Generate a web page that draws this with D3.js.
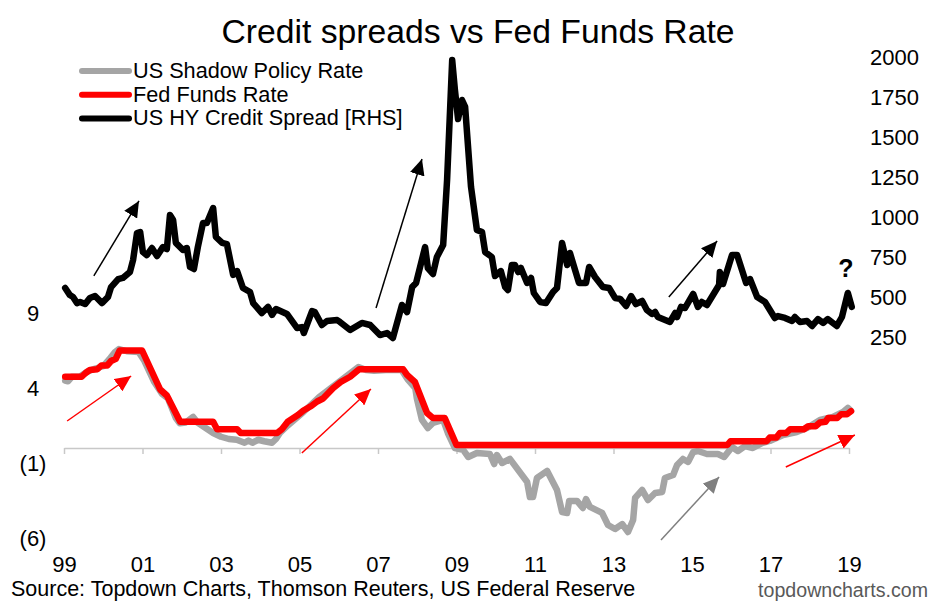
<!DOCTYPE html>
<html>
<head>
<meta charset="utf-8">
<script src="https://cdn.jsdelivr.net/npm/d3@7"></script>
<style>
  body { margin: 0; background: #fff; }
  text { font-family: "Liberation Sans", Arial, sans-serif; fill: #000; }
</style>
</head>
<body>
<script>
var w = 940,
    h = 612;

// data, dates are decimal years
var hyDates = [1999.03,1999.15,1999.23,1999.33,1999.41,1999.54,1999.66,1999.79,1999.97,2000.12,2000.20,2000.38,2000.50,2000.68,2000.76,2000.86,2000.94,2001.01,2001.11,2001.24,2001.37,2001.52,2001.62,2001.70,2001.78,2001.85,2002.03,2002.13,2002.21,2002.31,2002.41,2002.54,2002.64,2002.80,2002.87,2003.03,2003.15,2003.31,2003.41,2003.56,2003.74,2003.82,2004.04,2004.20,2004.30,2004.40,2004.68,2004.94,2005.06,2005.11,2005.32,2005.39,2005.57,2005.70,2005.96,2006.03,2006.29,2006.59,2006.80,2007.05,2007.23,2007.38,2007.61,2007.74,2007.87,2007.97,2008.20,2008.27,2008.40,2008.50,2008.66,2008.76,2008.89,2008.96,2009.04,2009.14,2009.22,2009.37,2009.52,2009.65,2009.73,2009.90,2009.98,2010.13,2010.24,2010.31,2010.41,2010.49,2010.57,2010.64,2010.80,2010.90,2010.97,2011.13,2011.28,2011.46,2011.56,2011.69,2011.82,2011.89,2012.12,2012.30,2012.38,2012.53,2012.73,2012.89,2013.04,2013.17,2013.32,2013.45,2013.57,2013.73,2013.85,2013.98,2014.06,2014.13,2014.44,2014.57,2014.62,2014.72,2014.82,2015.03,2015.15,2015.25,2015.38,2015.69,2015.71,2015.79,2016.02,2016.15,2016.38,2016.48,2016.66,2016.86,2017.11,2017.19,2017.37,2017.55,2017.62,2017.75,2017.93,2018.06,2018.21,2018.34,2018.46,2018.69,2018.82,2018.97,2019.07];
var hySpread = [556,512,500,462,469,456,494,506,462,500,562,612,619,656,731,900,906,781,762,806,756,812,800,1012,981,838,794,806,688,675,812,962,962,1056,875,838,831,638,662,556,531,462,400,438,388,425,394,306,312,275,412,406,325,350,356,344,294,338,325,262,275,244,450,406,562,588,812,681,644,750,825,1231,1981,1794,1612,1731,1688,1188,919,906,781,750,631,662,562,544,700,700,656,681,588,619,525,469,462,531,556,838,700,775,588,588,688,625,562,556,494,488,444,506,456,475,419,394,406,375,344,400,375,438,431,519,438,469,450,575,656,581,762,762,588,612,500,469,369,381,369,350,375,344,350,319,362,338,362,319,375,525,438];

var ffDates = [1999.03,1999.45,1999.55,1999.66,1999.85,1999.95,2000.10,2000.20,2000.32,2000.42,2000.99,2001.45,2001.62,2001.96,2002.80,2002.90,2003.41,2003.50,2004.43,2004.55,2004.70,2004.96,2005.10,2005.30,2005.45,2005.60,2005.86,2006.05,2006.29,2006.52,2007.64,2007.74,2007.94,2008.25,2008.40,2008.70,2009.00,2015.90,2015.98,2016.90,2016.98,2017.15,2017.24,2017.40,2017.50,2017.85,2017.96,2018.15,2018.26,2018.40,2018.47,2018.70,2018.80,2018.95,2019.05];
var ffRate = [4.75,4.75,5.0,5.2,5.25,5.5,5.5,5.8,5.95,6.5,6.5,3.9,3.5,1.75,1.75,1.25,1.25,1.0,1.0,1.25,1.75,2.2,2.5,2.8,3.1,3.3,4.0,4.4,4.75,5.25,5.25,4.87,4.4,2.33,2.0,2.0,0.2,0.2,0.45,0.45,0.7,0.7,1.0,1.0,1.25,1.25,1.45,1.45,1.7,1.75,2.0,2.0,2.25,2.25,2.45];

var shadowDates = [1999.03,1999.10,1999.20,1999.40,1999.60,1999.80,2000.00,2000.15,2000.30,2000.40,2000.60,2000.90,2001.05,2001.30,2001.50,2001.65,2001.85,2001.95,2002.10,2002.29,2002.40,2002.60,2002.80,2003.00,2003.20,2003.40,2003.60,2003.70,2003.80,2003.95,2004.10,2004.30,2004.40,2004.50,2004.70,2004.90,2005.10,2005.30,2005.50,2005.80,2006.10,2006.30,2006.50,2006.70,2006.90,2007.20,2007.60,2007.75,2007.95,2007.99,2008.12,2008.27,2008.40,2008.66,2008.78,2008.96,2009.17,2009.30,2009.52,2009.85,2009.96,2010.03,2010.16,2010.36,2010.80,2010.87,2010.95,2011.05,2011.31,2011.56,2011.69,2011.82,2011.87,2012.07,2012.22,2012.30,2012.40,2012.71,2012.86,2013.04,2013.22,2013.37,2013.50,2013.55,2013.73,2013.88,2014.06,2014.24,2014.31,2014.52,2014.62,2014.77,2014.90,2015.03,2015.15,2015.38,2015.66,2015.82,2016.02,2016.17,2016.35,2016.55,2016.78,2016.98,2017.32,2017.67,2017.93,2018.26,2018.59,2018.85,2018.97,2019.05];
var shadowRate = [4.5,4.45,4.75,4.75,5.1,5.3,5.45,5.9,6.4,6.6,6.45,6.4,5.8,4.4,3.6,3.3,2.0,1.65,1.7,2.07,1.7,1.35,1.0,0.75,0.6,0.55,0.35,0.5,0.35,0.55,0.45,0.35,0.6,1.0,1.5,1.95,2.4,2.9,3.4,4.0,4.6,5.0,5.4,5.2,5.15,5.2,5.2,4.6,4.0,3.3,1.87,1.33,1.67,1.87,1.0,0,-0.13,-0.6,-0.33,-0.4,-1.07,-0.47,-1.0,-0.73,-2.27,-3.27,-3.27,-2.0,-1.53,-2.8,-4.27,-4.33,-3.53,-3.53,-4.0,-3.4,-3.93,-4.33,-5.13,-5.4,-5.07,-5.6,-4.8,-3.33,-2.8,-3.47,-3.0,-2.93,-2.0,-1.8,-1.13,-0.73,-0.93,-0.27,-0.2,-0.4,-0.4,-0.6,0.07,-0.2,0.13,0,0.33,0.47,0.87,1.07,1.33,1.87,2.07,2.4,2.67,2.47];

var yearTicks = [1999,2001,2003,2005,2007,2009,2011,2013,2015,2017,2019];
var leftTicks = [-6,-1,4,9];
var rightTicks = [250,500,750,1000,1250,1500,1750,2000];
var legendNames = ['US Shadow Policy Rate','Fed Funds Rate','US HY Credit Spread [RHS]'];
var legendColors = ['#a5a5a5','#ff0000','#000000'];

// trend arrows, in years and left axis units
var arrowColors = ['#000000','#000000','#000000','#ff0000','#ff0000','#ff0000','#7f7f7f'];
var arrowFromYear = [1999.76,2006.95,2014.41,1999.08,2005.06,2017.39,2014.21];
var arrowFromRate = [11.47,9.33,10.07,1.8,-0.33,-1.27,-6.13];
var arrowToYear = [2000.91,2008.12,2015.64,2000.71,2006.82,2019.15,2015.69];
var arrowToRate = [16.47,19.27,13.8,4.8,3.93,0.87,-1.93];

var x = d3.scaleLinear().domain([1999, 2019]).range([64, 849]);
var yLeft = d3.scaleLinear().domain([-6, 9]).range([538, 313]);
var yRight = d3.scaleLinear().domain([250, 2000]).range([337, 57]);

var svg = d3.select('body')
            .append('svg')
            .attr('width', w)
            .attr('height', h)
            .style('display', 'block');

svg.append('text')
   .attr('x', 478)
   .attr('y', 43)
   .attr('text-anchor', 'middle')
   .style('font-size', '33.7px')
   .text('Credit spreads vs Fed Funds Rate');

// axis line at zero, labels sit at the bottom of the plot
var zeroAxis = svg.append('g')
   .attr('transform', 'translate(0,' + yLeft(0) + ')')
   .call(d3.axisBottom(x).tickValues(yearTicks).tickSize(6).tickSizeOuter(0).tickFormat(''));
zeroAxis.selectAll('path, line').attr('stroke', '#c8c8c8').attr('stroke-width', 1.5);

var yearAxis = svg.append('g')
   .attr('transform', 'translate(0,565)')
   .call(d3.axisBottom(x).tickValues(yearTicks).tickSize(0).tickPadding(0)
     .tickFormat(function(d) { return String(d % 100).padStart(2, '0'); }));
yearAxis.select('.domain').remove();
yearAxis.selectAll('text')
   .attr('dy', '0.32em')
   .style('font-size', '22px')
   .style('font-family', '"Liberation Sans", Arial, sans-serif');

var leftAxis = svg.append('g')
   .attr('transform', 'translate(33,0)')
   .call(d3.axisLeft(yLeft).tickValues(leftTicks).tickSize(0).tickPadding(0)
     .tickFormat(function(d) { return d < 0 ? '(' + Math.abs(d) + ')' : d; }));
leftAxis.select('.domain').remove();
leftAxis.selectAll('text')
   .attr('text-anchor', 'middle')
   .style('font-size', '22px')
   .style('font-family', '"Liberation Sans", Arial, sans-serif');

var rightAxis = svg.append('g')
   .attr('transform', 'translate(870,0)')
   .call(d3.axisRight(yRight).tickValues(rightTicks).tickSize(0).tickPadding(0).tickFormat(d3.format('d')));
rightAxis.select('.domain').remove();
rightAxis.selectAll('text')
   .style('font-size', '22px')
   .style('font-family', '"Liberation Sans", Arial, sans-serif');

// line series
function drawLine(dates, values, y, color) {
  var line = d3.line()
    .x(function(d) { return x(d); })
    .y(function(d, i) { return y(values[i]); });
  svg.append('path')
     .attr('d', line(dates))
     .attr('fill', 'none')
     .attr('stroke', color)
     .attr('stroke-width', 6.5)
     .attr('stroke-linejoin', 'round')
     .attr('stroke-linecap', 'round');
}

drawLine(shadowDates, shadowRate, yLeft, legendColors[0]);
drawLine(ffDates, ffRate, yLeft, legendColors[1]);
drawLine(hyDates, hySpread, yRight, legendColors[2]);

// arrow heads, one marker per colour
var defs = svg.append('defs');
d3.range(arrowColors.length).forEach(function(i) {
  defs.append('marker')
      .attr('id', 'head' + i)
      .attr('markerUnits', 'userSpaceOnUse')
      .attr('viewBox', '0 0 16 15')
      .attr('refX', 16)
      .attr('refY', 7.5)
      .attr('markerWidth', 16)
      .attr('markerHeight', 15)
      .attr('orient', 'auto')
    .append('path')
      .attr('d', 'M0,0L16,7.5L0,15Z')
      .attr('fill', arrowColors[i]);
  svg.append('line')
     .attr('x1', x(arrowFromYear[i]))
     .attr('y1', yLeft(arrowFromRate[i]))
     .attr('x2', x(arrowToYear[i]))
     .attr('y2', yLeft(arrowToRate[i]))
     .attr('stroke', arrowColors[i])
     .attr('stroke-width', 1.5)
     .attr('marker-end', 'url(#head' + i + ')');
});

svg.append('text')
   .attr('x', x(2018.92))
   .attr('y', yRight(625))
   .attr('text-anchor', 'middle')
   .style('font-size', '25px')
   .style('font-weight', 'bold')
   .text('?');

// legend
var legend = svg.selectAll('.legend')
   .data(legendNames)
   .enter()
   .append('g')
   .attr('class', 'legend')
   .attr('transform', function(d, i) { return 'translate(0,' + (71 + i * 23.7) + ')'; });

legend.append('line')
   .attr('x1', 82)
   .attr('x2', 129)
   .attr('stroke', function(d, i) { return legendColors[i]; })
   .attr('stroke-width', 6)
   .attr('stroke-linecap', 'round');

legend.append('text')
   .attr('x', 133)
   .attr('dy', '0.32em')
   .style('font-size', '21.7px')
   .text(function(d) { return d; });

svg.append('text')
   .attr('x', 11)
   .attr('y', 596)
   .style('font-size', '21.5px')
   .text('Source: Topdown Charts, Thomson Reuters, US Federal Reserve');

svg.append('text')
   .attr('x', 928)
   .attr('y', 597)
   .attr('text-anchor', 'end')
   .style('font-size', '19.6px')
   .style('fill', '#595959')
   .text('topdowncharts.com');
</script>
</body>
</html>
